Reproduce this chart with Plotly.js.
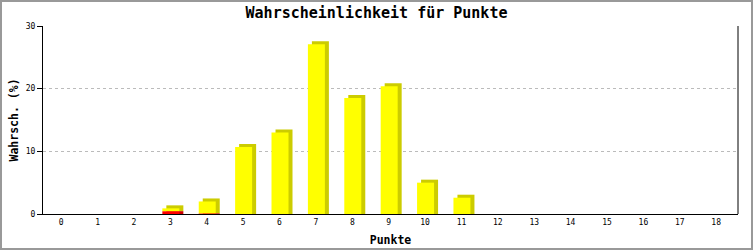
<!DOCTYPE html>
<html>
<head>
<meta charset="utf-8">
<script src="https://cdn.plot.ly/plotly-3.0.1.min.js"></script>
<style>
  html, body { margin: 0; padding: 0; background: #fff; }
  #wrap { position: relative; width: 753px; height: 250px; }
  #chart { width: 753px; height: 250px; }
  #frame { position: absolute; left: 0; top: 0; width: 753px; height: 250px;
           box-sizing: border-box; border: 2px solid #999; pointer-events: none; }
</style>
</head>
<body>
<div id="wrap"><div id="chart"></div><div id="frame"></div></div>
<script>
// Data
const points = [0,1,2,3,4,5,6,7,8,9,10,11,12,13,14,15,16,17,18];
const redValues    = [0,0,0,0.45,0.1,0,0,0,0,0,0,0,0,0,0,0,0,0,0];
const yellowValues = [0,0,0,0.45,1.9,10.7,13.0,27.1,18.5,20.4,5.0,2.6,0,0,0,0,0,0,0];
const tickLabels = points.map(String);

const depth = 0.48;      // 3D shadow rise in value units
const barW = 0.467;
const frontOff = -0.22;
const shadowOff = frontOff + 0.11;

const redShadowH = redValues.slice();
const yellowShadowH = yellowValues.map(v => v > 0 ? v + depth : 0);

const traces = [
  { type: 'bar', x: points, y: yellowShadowH, base: redValues, width: barW, offset: shadowOff,
    marker: { color: '#cccc00', line: { width: 0 } }, hoverinfo: 'skip' },
  { type: 'bar', x: points, y: redShadowH, base: 0, width: barW, offset: shadowOff,
    marker: { color: '#cc0000', line: { width: 0 } }, hoverinfo: 'skip' },
  { type: 'bar', x: points, y: redValues, base: 0, width: barW, offset: frontOff,
    marker: { color: '#ff0000', line: { width: 0 } } },
  { type: 'bar', x: points, y: yellowValues, base: redValues, width: barW, offset: frontOff,
    marker: { color: '#ffff00', line: { width: 0 } } }
];

const mono = '"DejaVu Sans Mono", "Liberation Mono", monospace';

const layout = {
  width: 753, height: 250,
  margin: { l: 43, r: 15, t: 26, b: 36 },
  paper_bgcolor: '#fff', plot_bgcolor: '#fff',
  showlegend: false,
  barmode: 'overlay',
  title: { text: '<b>Wahrscheinlichkeit für Punkte</b>', font: { family: mono, size: 15, color: '#000' },
           x: 0.5, xref: 'container', y: 1 - 13/250, yref: 'container', yanchor: 'middle' },
  xaxis: {
    range: [-0.5, 18.6], tickvals: points, ticktext: tickLabels,
    showgrid: false, zeroline: false, showline: true, linecolor: '#000', linewidth: 1,
    ticks: '', tickfont: { family: mono, size: 8, color: '#000' },
    title: { text: '<b>Punkte</b>', font: { family: mono, size: 11.5, color: '#000' }, standoff: 10 },
    fixedrange: true
  },
  yaxis: {
    range: [0, 30], tickvals: [0, 10, 20, 30],
    showgrid: true, gridcolor: '#bbbbbb', griddash: 'dot', gridwidth: 1,
    zeroline: false, showline: true, linecolor: '#000', linewidth: 1,
    ticks: 'outside', ticklen: 5, tickcolor: '#000',
    tickfont: { family: mono, size: 8, color: '#000' },
    title: { text: '<b>Wahrsch. (%)</b>', font: { family: mono, size: 11.5, color: '#000' }, standoff: 4 },
    fixedrange: true
  },
  shapes: [
    { type: 'line', xref: 'paper', yref: 'paper', x0: 1, x1: 1, y0: 0, y1: 1,
      line: { color: '#000', width: 1 } }
  ]
};

Plotly.newPlot('chart', traces, layout, { displayModeBar: false, staticPlot: true });
</script>
</body>
</html>
